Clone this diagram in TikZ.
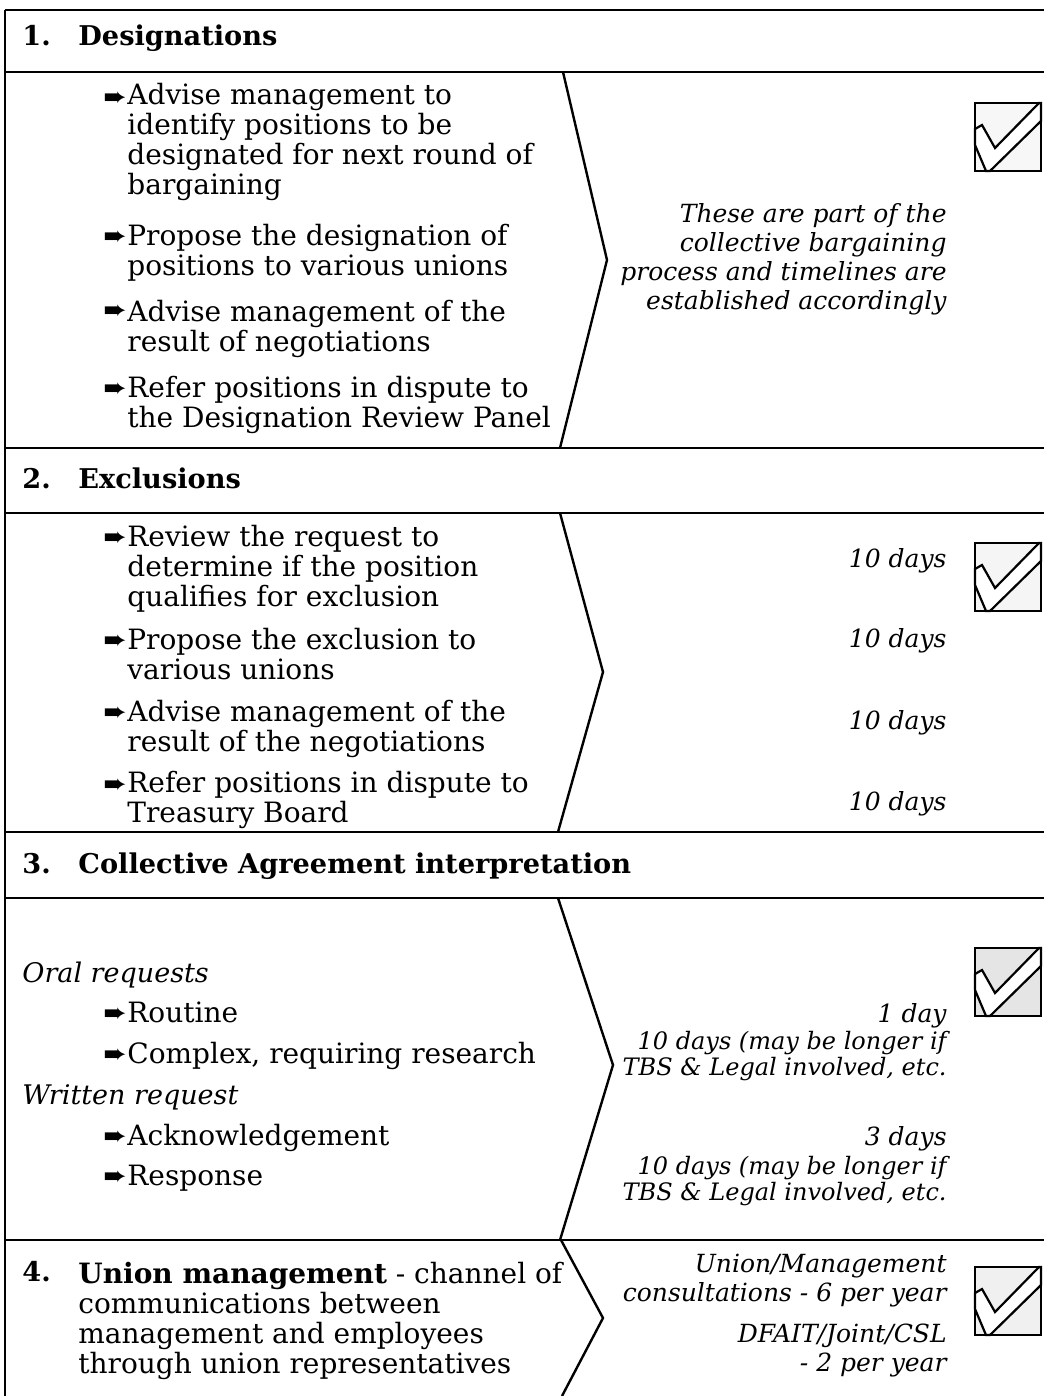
\documentclass[tikz,border=0pt]{standalone}
\usepackage{fontspec}
\setmainfont{DejaVu Serif}
\newfontfamily\dingfont{DejaVu Sans}

\newcommand{\arrowbul}{{\dingfont ➨}}
% arrow bullet and its text (placed at the baseline of its last line)
\newcommand{\bulitem}[4]{%
  \node[bul] (#1a) at (103,#2) {\arrowbul};
  \node[itemtext] (#1) at (127,#3) {#4};}

\begin{document}
\begin{tikzpicture}[x=0.5pt,y=-0.5pt,
    rule/.style={line width=1.3pt},
    chev/.style={line width=1.2pt},
    every node/.style={inner sep=0pt,font=\fontsize{14}{15}\selectfont},
    head/.style={anchor=base west,font=\fontsize{13.6}{15}\selectfont\bfseries},
    itemtext/.style={anchor=base west,align=left},
    bul/.style={anchor=base west},
    subhead/.style={anchor=base west,font=\fontsize{13.5}{15}\selectfont\itshape},
    when/.style={anchor=base east,align=right,font=\fontsize{12.5}{14.5}\selectfont\itshape},
    whensmall/.style={when,font=\fontsize{12}{13}\selectfont\itshape},
    tickbox/.pic={
      \fill[black!#1] (0,0) rectangle (66,68);
      \draw[line width=1.1pt] (0,0) rectangle (66,68);
      \draw[line width=1.1pt,fill=white] (0,26) -- (7,22) -- (20,45) -- (64,0)
        -- (66,0) -- (66,18) -- (15,68) -- (11,68) -- (0,42) -- cycle;
    }]
\useasboundingbox (0,0) rectangle (1044,1396);

% frame and section rules
\draw[rule] (5,10) -- (5,1396);
\foreach \yy in {10,72,448,513,832,898,1240}
  \draw[rule] (5,\yy) -- (1044,\yy);

% chevrons
\draw[chev] (563,72) -- (607,260) -- (560,448);
\draw[chev] (560,513) -- (603,672) -- (558,832);
\draw[chev] (558,898) -- (613,1065) -- (560,1240);
\draw[chev] (561,1240) -- (603,1318) -- (562,1396);

% ticks
\pic at (975,103) {tickbox=3};
\pic at (975,543) {tickbox=4};
\pic at (975,948) {tickbox=10};
\pic at (975,1267) {tickbox=6};

% 1. designations
\node[head] (h1num) at (22,46) {1.};
\node[head] (h1) at (78,46) {Designations};
\bulitem{d1}{107}{195}{Advise management to\\identify positions to be\\designated for next round of\\bargaining}
\bulitem{d2}{245}{275}{Propose the designation of\\positions to various unions}
\bulitem{d3}{319}{351}{Advise management of the\\result of negotiations}
\bulitem{d4}{397}{427}{Refer positions in dispute to\\the Designation Review Panel}
\node[when] (dtime) at (947,309) {These are part of the\\collective bargaining\\process and timelines are\\established accordingly};

% 2. exclusions
\node[head] (h2num) at (22,488) {2.};
\node[head] (h2) at (78,488) {Exclusions};
\bulitem{e1}{546}{606}{Review the request to\\determine if the position\\qualifies for exclusion}
\bulitem{e2}{649}{679}{Propose the exclusion to\\various unions}
\bulitem{e3}{721}{751}{Advise management of the\\result of the negotiations}
\bulitem{e4}{793}{822}{Refer positions in dispute to\\Treasury Board}
\node[when] (et1) at (947,567) {10 days};
\node[when] (et2) at (947,647) {10 days};
\node[when] (et3) at (947,729) {10 days};
\node[when] (et4) at (947,810) {10 days};

% 3. collective agreement
\node[head] (h3num) at (22,873) {3.};
\node[head] (h3) at (78,873) {Collective Agreement interpretation};
\node[subhead] (oral) at (22,982) {Oral requests};
\bulitem{c1}{1022}{1022}{Routine}
\bulitem{c2}{1063}{1063}{Complex, requiring research}
\node[subhead] (written) at (22,1104) {Written request};
\bulitem{c3}{1145}{1145}{Acknowledgement}
\bulitem{c4}{1185}{1185}{Response}
\node[when] (ct1) at (947,1022) {1 day};
\node[whensmall] (ct2) at (947,1075) {10 days (may be longer if\\TBS \& Legal involved, etc.};
\node[when] (ct3) at (947,1145) {3 days};
\node[whensmall] (ct4) at (947,1200) {10 days (may be longer if\\TBS \& Legal involved, etc.};

% 4. union management
\node[head] (h4num) at (22,1281) {4.};
\node[itemtext] (h4) at (78,1373) {\textbf{Union management} - channel of\\communications between\\management and employees\\through union representatives};
\node[when] (ut1) at (947,1301) {Union/Management\\consultations - 6 per year};
\node[when] (ut2) at (947,1371) {DFAIT/Joint/CSL\\- 2 per year};
\end{tikzpicture}
\end{document}
